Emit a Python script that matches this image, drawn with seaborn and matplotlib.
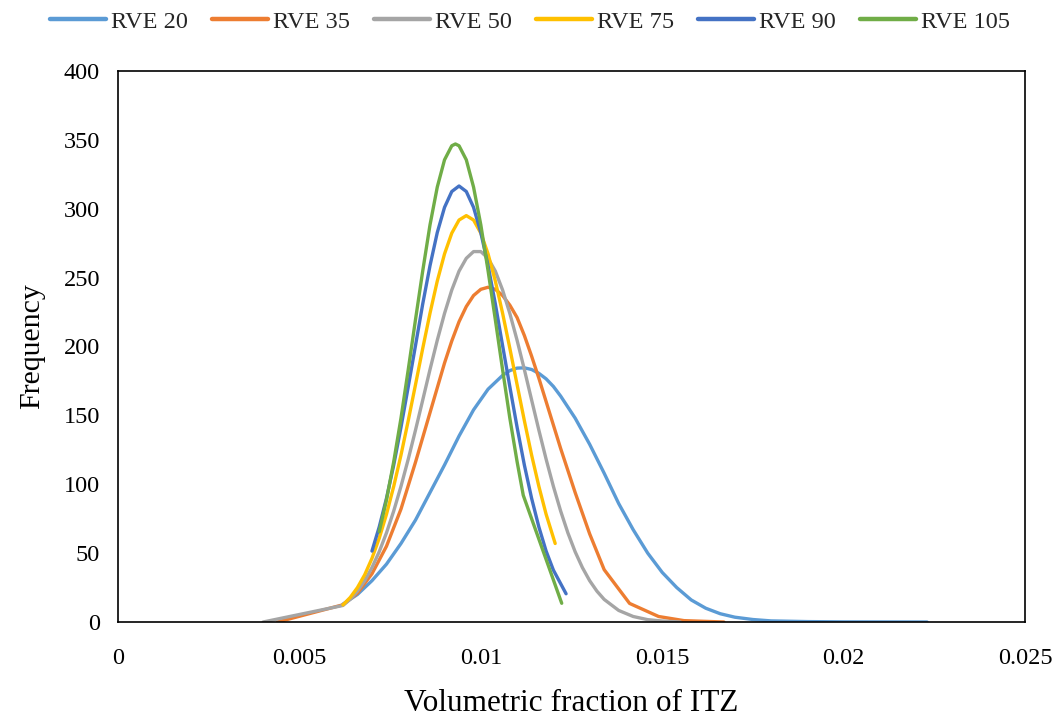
import matplotlib
matplotlib.use("Agg")
import matplotlib.pyplot as plt
import numpy as np
import pandas as pd
import seaborn as sns

# Frequency curves of the ITZ volumetric fraction for each RVE size
rve20_x = [0.0062, 0.0066, 0.0070, 0.0074, 0.0078, 0.0082, 0.0086, 0.0090, 0.0094,
           0.0098, 0.0102, 0.0106, 0.0108, 0.0110, 0.0112, 0.0114, 0.0116, 0.0118,
           0.0120, 0.0122, 0.0126, 0.0130, 0.0134, 0.0138, 0.0142, 0.0146, 0.0150,
           0.0154, 0.0158, 0.0162, 0.0166, 0.0170, 0.0175, 0.0180, 0.0190, 0.0200,
           0.0223]
rve20_y = [13, 20, 30, 42, 57, 74, 94, 114, 135,
           154, 169, 179, 182.5, 184.3, 184.5, 183.3, 180.5, 176.5,
           171, 164, 148, 129, 108, 86, 67, 50, 36,
           25, 16, 10, 6, 3.5, 1.8, 0.8, 0.3, 0.1,
           0]

rve35_x = [0.0044, 0.0062, 0.0066, 0.0070, 0.0074, 0.0078, 0.0082, 0.0084, 0.0086,
           0.0088, 0.0090, 0.0092, 0.0094, 0.0096, 0.0098, 0.0100, 0.0102, 0.0104,
           0.0106, 0.0108, 0.0110, 0.0112, 0.0114, 0.0116, 0.0118, 0.0120, 0.0122,
           0.0126, 0.0130, 0.0134, 0.0141, 0.0149, 0.0156, 0.0167]
rve35_y = [0, 12.5, 21, 35, 55, 82, 116, 134, 152,
           170, 188, 204, 218, 229, 237, 241.5, 243, 241.5,
           237, 230, 221, 208, 193, 177, 160, 143, 126,
           94, 64, 38, 13.5, 4, 1, 0]

rve50_x = [0.0040, 0.0062, 0.0064, 0.0066, 0.0068, 0.0070, 0.0072, 0.0074, 0.0076,
           0.0078, 0.0080, 0.0082, 0.0084, 0.0086, 0.0088, 0.0090, 0.0092, 0.0094,
           0.0096, 0.0098, 0.0100, 0.0102, 0.0104, 0.0106, 0.0108, 0.0110, 0.0112,
           0.0114, 0.0116, 0.0118, 0.0120, 0.0122, 0.0124, 0.0126, 0.0128, 0.0130,
           0.0132, 0.0134, 0.0138, 0.0142, 0.0146, 0.0150, 0.0155]
rve50_y = [0, 12, 16.5, 22.4, 30, 39.5, 51, 64.7, 80.6,
           98.5, 118.2, 139.3, 161.2, 183.3, 204.5, 224, 241, 254.7,
           264, 268.9, 268.9, 264, 254.7, 241, 224, 204.5, 183.3,
           161.2, 139.3, 118.2, 98.5, 80.6, 64.7, 51, 39.5, 30,
           22.4, 16.4, 8.4, 4, 1.7, 0.7, 0]

rve75_x = [0.0062, 0.0064, 0.0066, 0.0068, 0.0070, 0.0072, 0.0074, 0.0076, 0.0078,
           0.0080, 0.0082, 0.0084, 0.0086, 0.0088, 0.0090, 0.0092, 0.0094, 0.0096,
           0.0098, 0.0100, 0.0102, 0.0104, 0.0106, 0.0108, 0.0110, 0.0112, 0.0114,
           0.0116, 0.0118, 0.01205]
rve75_y = [12.4, 17.8, 25, 34.3, 46.2, 60.8, 78.2, 98.5, 121.2,
           146.2, 172.3, 198.7, 224.2, 247.5, 267.2, 282.3, 291.8, 295,
           291.8, 282.3, 267.2, 247.5, 224.2, 198.7, 172.3, 146.2, 121.2,
           98.5, 78.2, 57]

rve90_x = [0.0070, 0.0072, 0.0074, 0.0076, 0.0078, 0.0080, 0.0082, 0.0084, 0.0086,
           0.0088, 0.0090, 0.0092, 0.0094, 0.0096, 0.0098, 0.0100, 0.0102, 0.0104,
           0.0106, 0.0108, 0.0110, 0.0112, 0.0114, 0.0116, 0.0118, 0.0120, 0.01235]
rve90_y = [51.5, 69, 89.8, 114, 141.4, 170.8, 200.7, 231, 258.7,
           282.7, 301, 312.5, 316.5, 312.5, 301, 282.7, 258.7, 231,
           200.7, 170.8, 141.4, 114, 89.8, 69, 51.5, 37.7, 20.5]

rve105_x = [0.0072, 0.0074, 0.0076, 0.0078, 0.0080, 0.0082, 0.0084, 0.0086, 0.0088,
            0.0090, 0.0092, 0.0093, 0.0094, 0.0096, 0.0098, 0.0100, 0.0102, 0.0104,
            0.0106, 0.0108, 0.0110, 0.01117, 0.01223]
rve105_y = [65.5, 88.6, 116.4, 148, 183.2, 219.5, 255, 288.3, 315.7,
            335.5, 345.7, 347, 345.7, 335.5, 315.7, 288.3, 255, 219.5,
            183.2, 148, 116.4, 92, 13.6]

series_names = ["RVE 20", "RVE 35", "RVE 50", "RVE 75", "RVE 90", "RVE 105"]
series_x = [rve20_x, rve35_x, rve50_x, rve75_x, rve90_x, rve105_x]
series_y = [rve20_y, rve35_y, rve50_y, rve75_y, rve90_y, rve105_y]
colors = ["#5B9BD5", "#ED7D31", "#A5A5A5", "#FFC000", "#4472C4", "#70AD47"]

x_ticks = [0, 0.005, 0.01, 0.015, 0.02, 0.025]
x_tick_labels = ["0", "0.005", "0.01", "0.015", "0.02", "0.025"]
y_ticks = [0, 50, 100, 150, 200, 250, 300, 350, 400]

frames = []
for name, xs, ys in zip(series_names, series_x, series_y):
    frames.append(pd.DataFrame({"fraction": xs, "frequency": ys, "series": name}))
df = pd.concat(frames, ignore_index=True)

sns.set_theme(style="white")
plt.rcParams["font.family"] = ["Liberation Serif", "DejaVu Serif"]

fig = plt.figure(figsize=(10.62, 7.19), dpi=100)
ax = fig.add_axes([0.1111, 0.1349, 0.8541, 0.7664])

sns.lineplot(data=df, x="fraction", y="frequency", hue="series",
             hue_order=series_names, palette=colors, sort=False,
             estimator=None, units="series", linewidth=2.4, ax=ax, legend=False,
             solid_capstyle="round", solid_joinstyle="round")

ax.set_xlim(0, 0.025)
ax.set_ylim(0, 400)
ax.set_xticks(x_ticks)
ax.set_xticklabels(x_tick_labels)
ax.set_yticks(y_ticks)
ax.tick_params(axis="x", direction="in", length=6, width=1.2, pad=19,
               labelsize=17.5, colors="black")
ax.tick_params(axis="y", direction="out", length=0, width=1.2, pad=13,
               labelsize=17.5, colors="black")
ax.grid(False)
for side in ["left", "right", "top", "bottom"]:
    ax.spines[side].set_visible(True)
    ax.spines[side].set_color("black")
    ax.spines[side].set_linewidth(1.2)

ax.set_xlabel("Volumetric fraction of ITZ", fontsize=22.5, labelpad=14, color="black")
ax.set_ylabel("Frequency", fontsize=21.5, labelpad=13, color="black")

handles = [plt.Line2D([0], [0], color=c, lw=3.2) for c in colors]
fig.legend(handles, series_names, loc="center", bbox_to_anchor=(0.499, 0.970),
           ncol=6, frameon=False, fontsize=17.5, handlelength=2.3,
           handletextpad=0.2, columnspacing=1.0)

fig.savefig("out.png", dpi=100)
